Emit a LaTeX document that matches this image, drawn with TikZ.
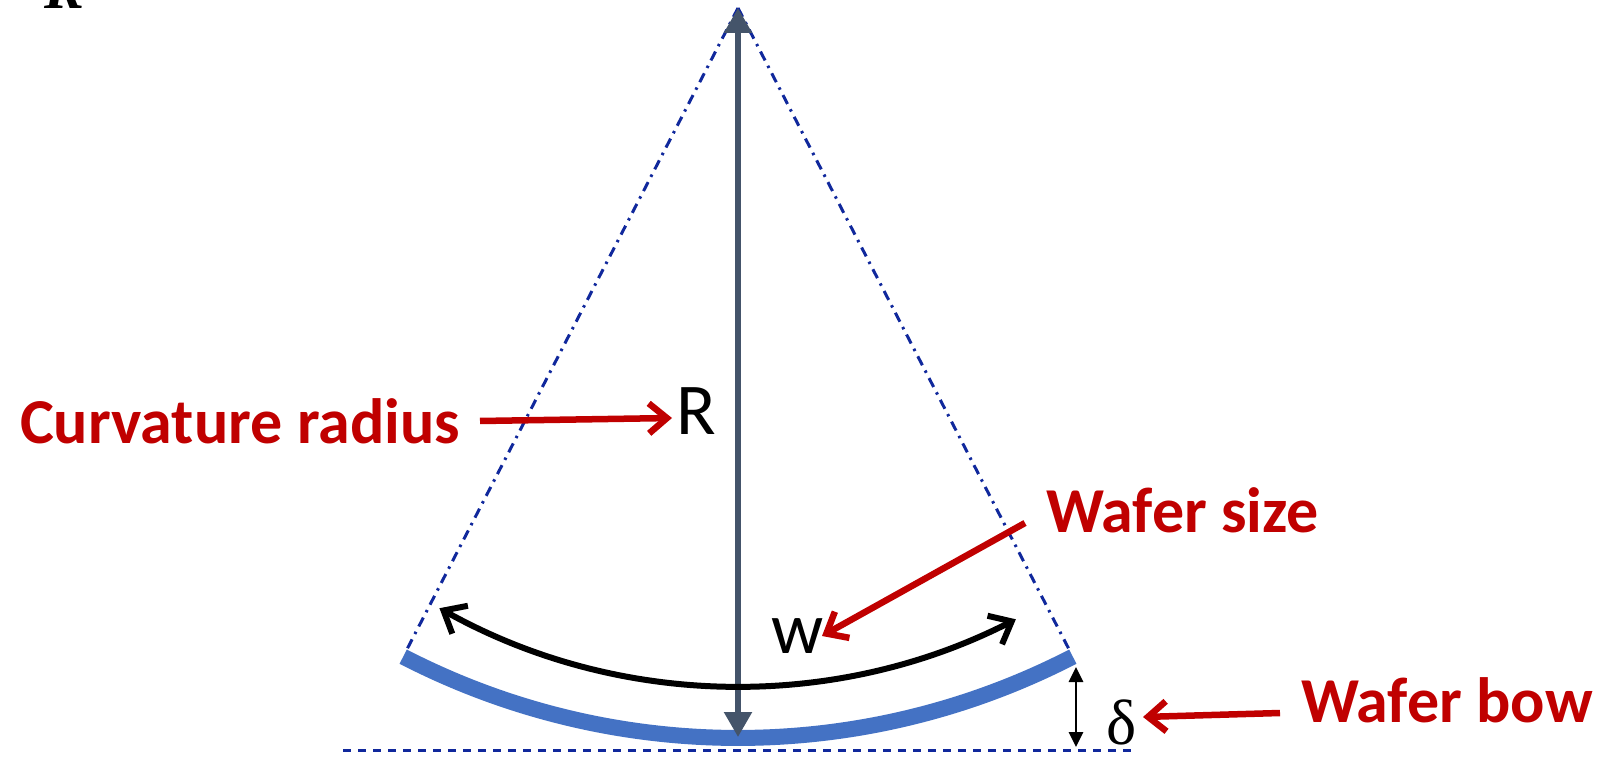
\documentclass[tikz,border=0pt]{standalone}
\usepackage{fontspec}
\setmainfont{Carlito}
\newfontfamily\seriffont{Liberation Serif}
\usetikzlibrary{arrows.meta,calc}
\definecolor{lblred}{HTML}{C00000}
\definecolor{waferblue}{HTML}{4472C4}
\definecolor{radgray}{HTML}{44546A}
\definecolor{guidenavy}{RGB}{16,40,156}
\begin{document}
\begin{tikzpicture}[x=1pt,y=1pt,
  lbl/.style={inner sep=0pt, outer sep=0pt, anchor=base west, text=lblred, font=\fontsize{64}{70}\selectfont\bfseries},
  sym/.style={inner sep=0pt, outer sep=0pt, anchor=base west, font=\fontsize{73}{80}\selectfont},
  redarrow/.style={draw=lblred, line width=6.5pt, -{Straight Barb[length=18pt,width=30pt]}},
  wafer/.style={draw=waferblue, line width=16pt},
  radius arrow/.style={draw=radgray, line width=5.5pt, {Triangle[length=25pt,width=27pt]}-{Triangle[length=25pt,width=27pt]}},
  warc/.style={draw=black, line width=6pt, {Straight Barb[length=19pt,width=32pt]}-{Straight Barb[length=19pt,width=32pt]}},
  guide/.style={draw=guidenavy, line width=3pt, dash pattern=on 10pt off 6pt on 2.5pt off 6pt},
  baseline guide/.style={draw=guidenavy, line width=3pt, dash pattern=on 8pt off 7pt},
  bowarrow/.style={draw=black, line width=2.8pt, {Triangle[length=15pt,width=14pt]}-{Triangle[length=15pt,width=14pt]}}]
\useasboundingbox (0,0) rectangle (1598,756);

% fragment of a letter cut at the top edge
\node[inner sep=0pt, anchor=base west, font=\seriffont\fontsize{60}{66}\selectfont\bfseries\itshape] (topR) at (44,747) {R};

% apex and key points
\coordinate (apex) at (738,748);
\coordinate (wl) at ($(apex)+(242.7:722pt)$);
\coordinate (wr) at ($(apex)+(297.3:722pt)$);
\coordinate (bottom) at (738,19);
\coordinate (wcenter) at (738,682);

% guide lines
\draw[guide] (apex) -- (wl);
\draw[guide] (apex) -- (wr);
\coordinate (bl) at (343,6);
\coordinate (br) at (1132,6);
\draw[baseline guide] (bl) -- (br);

% wafer
\draw[wafer] ($(apex)+(242.7:730pt)$) arc[start angle=242.7, end angle=297.3, radius=730pt];

% radius arrow
\draw[radius arrow] (apex) -- (bottom);

% w arc
\draw[warc] ($(wcenter)+(240.8:612pt)$) arc[start angle=240.8, end angle=297, radius=612pt];

% bow arrow
\coordinate (bowtop) at (1076,89);
\coordinate (bowbot) at (1076,9);
\draw[bowarrow] (bowtop) -- (bowbot);

% symbols
\node[sym] (R) at (676,322) {R};
\node[sym] (w) at (771,103) {w};
\node[inner sep=0pt, outer sep=0pt, anchor=base west, font=\seriffont\fontsize{64}{70}\selectfont] (delta) at (1106,12) {δ};

% labels
\node[lbl] (curv) at (20,313) {Curvature radius};
\node[lbl] (wsize) at (1046,224) {Wafer size};
\node[lbl] (wbow) at (1301,34) {Wafer bow};

% red arrows
\coordinate (c1) at (480,335);
\coordinate (c2) at (672,338);
\draw[redarrow] (c1) -- (c2);
\coordinate (s1) at (1025,233);
\coordinate (s2) at (822,120);
\draw[redarrow] (s1) -- (s2);
\coordinate (b1) at (1280,43);
\coordinate (b2) at (1143,39);
\draw[redarrow] (b1) -- (b2);
\end{tikzpicture}
\end{document}
